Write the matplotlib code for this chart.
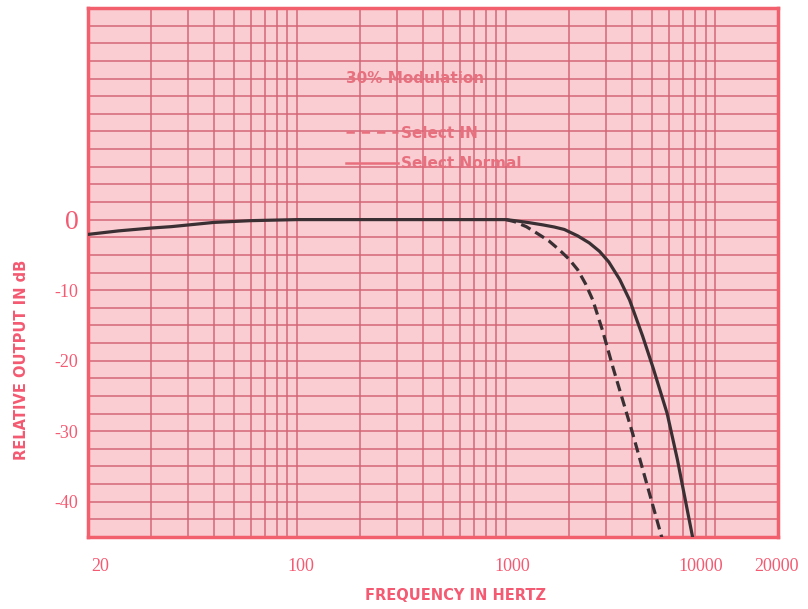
import numpy as np
import matplotlib
matplotlib.use('Agg')
import matplotlib.pyplot as plt
from matplotlib.lines import Line2D

# response (Hz, dB)
freq_normal = [10, 14, 20, 25, 40, 60, 100, 1000, 1100, 1300, 1500, 1700, 1900, 2200, 2500,
               2800, 3100, 3500, 3900, 4500, 5050, 5900, 6600, 7900]
db_normal = [-2.1, -1.6, -1.2, -1.0, -0.4, -0.15, 0, 0, -0.15, -0.45, -0.75, -1.05, -1.4, -2.3, -3.3,
             -4.5, -6.0, -8.5, -11.4, -16.5, -21, -27.5, -34, -45.8]

freq_in = [1000, 1100, 1250, 1400, 1600, 1800, 2000, 2200, 2400, 2600, 2900, 3250, 4050, 5650]
db_in = [0, -0.3, -1.0, -1.9, -3.0, -4.3, -5.6, -7.1, -9.1, -11.4, -15.8, -21, -30.5, -45.8]

# labels sit where the original printed them
xtick_pos = [11.4, 104, 1069, 8570, 19600]
xtick_labels = ['20', '100', '1000', '10000', '20000']
ytick_pos = [0, -10, -20, -30, -40]
ytick_labels = ['0', '-10', '-20', '-30', '-40']

grid_x = [20, 30, 40, 50, 60, 70, 80, 90, 100,
          200, 300, 400, 500, 600, 700, 800, 900, 1000,
          2000, 3000, 4000, 5000, 6000, 7000, 8000, 9000, 10000]
grid_y = np.arange(-45, 30.1, 2.5)

pink_txt = '#f45a72'
grid_col = '#d46676'
plt.rcParams['lines.scale_dashes'] = False

fig = plt.figure(figsize=(8.08, 6.09), dpi=100)
ax = fig.add_axes([88/808, 1-537/609, 690/808, 529/609])
ax.set_facecolor('#f9cdd2')
ax.set_xscale('log')
ax.set_xlim(10, 20000)
ax.set_ylim(-45, 30)

for gx in grid_x:
    ax.axvline(gx, color=grid_col, lw=1.1, zorder=1)
for gy in grid_y:
    ax.axhline(gy, color=grid_col, lw=1.1, zorder=1)

ax.plot(freq_normal, db_normal, color='#3a3034', lw=2.3, zorder=3)
ax.plot(freq_in, db_in, color='#3a3034', lw=2.3, dashes=(7.5, 4), zorder=3)

ax.xaxis.set_minor_locator(matplotlib.ticker.NullLocator())
ax.set_xticks(xtick_pos, xtick_labels, family='Liberation Serif', fontsize=13, color=pink_txt)
ax.set_yticks(ytick_pos, ytick_labels, family='Liberation Serif', fontsize=13, color=pink_txt)
ax.get_yticklabels()[0].set_fontsize(20)
ax.tick_params(axis='both', length=0)
ax.tick_params(axis='x', pad=15)
ax.tick_params(axis='y', pad=7)

for s in ax.spines.values():
    s.set_color('#f2606e')
    s.set_linewidth(2.5)

ax.set_ylabel('RELATIVE OUTPUT IN dB', fontsize=10.5, fontweight='bold', color=pink_txt)
ax.set_xlabel('FREQUENCY IN HERTZ', fontsize=10.5, fontweight='bold', color=pink_txt)
ax.yaxis.set_label_coords(-0.086, 0.335)
ax.xaxis.set_label_coords(0.533, -0.097)

leg_col = '#e8707e'
ax.text(0.374, 0.867, '30% Modulation', transform=ax.transAxes, fontsize=11,
        fontweight='bold', color=leg_col, va='center', zorder=4)
handles = [Line2D([], [], color=leg_col, lw=1.8, dashes=(6, 5)),
           Line2D([], [], color=leg_col, lw=1.8)]
ax.legend(handles, ['Select IN', 'Select Normal'], loc='upper left',
          bbox_to_anchor=(338/808, 1-118/609), bbox_transform=fig.transFigure,
          frameon=False, borderpad=0, handlelength=3.4, handletextpad=0.25,
          labelspacing=1.0, prop={'size': 11, 'weight': 'bold'}, labelcolor=leg_col)

fig.savefig('out.png', dpi=100)
